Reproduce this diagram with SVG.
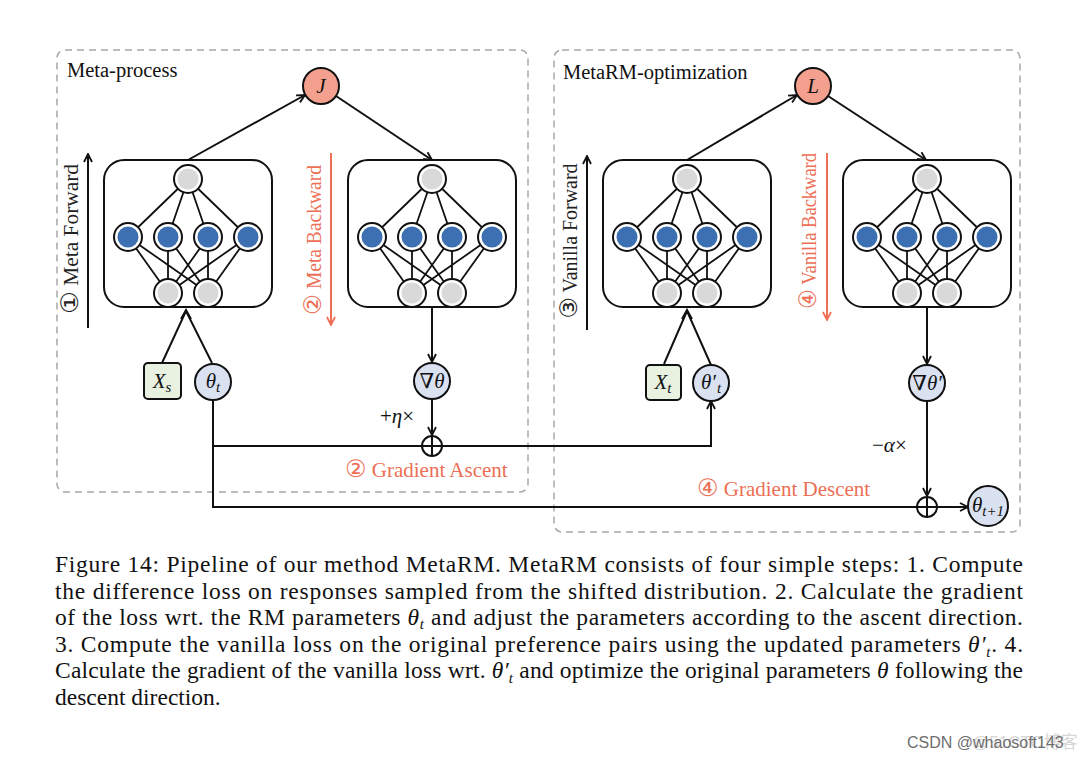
<svg xmlns="http://www.w3.org/2000/svg" xmlns:xlink="http://www.w3.org/1999/xlink" width="1080" height="759" viewBox="0 0 1080 759">
<style>
.dash{fill:none;stroke:#a8a8a8;stroke-width:1.5;stroke-dasharray:7 5}
.ln{fill:none;stroke:#111;stroke-width:2}
.nl{fill:none;stroke:#111;stroke-width:1.8}
.rl{fill:none;stroke:#ec6f56;stroke-width:2}
.ser{font-family:"Liberation Serif","Times New Roman",serif;fill:#111}
.lbl{font-family:"Liberation Serif","Times New Roman","DejaVu Sans",serif;font-size:20px}
.glbl{font-family:"Liberation Serif","Times New Roman","DejaVu Sans",serif;font-size:21px}
.dig{font-size:24px}
.red{fill:#ec6f56}
.cap{font-family:"Liberation Serif","Times New Roman",serif;font-size:23.5px;fill:#111}
.mi{font-style:italic}
.sub{font-size:15px;font-style:italic}
.math{font-family:"Liberation Serif","DejaVu Serif",serif;font-size:21px;fill:#111}
.msub{font-size:15px;font-style:italic}
.par{fill:#dae1f0;stroke:#111;stroke-width:2}
.inp{fill:#e9f2e1;stroke:#111;stroke-width:2}
.loss{fill:#f4a08e;stroke:#111;stroke-width:2}
</style>
<defs>
<marker id="ah" viewBox="0 0 10 10" refX="9" refY="5" markerWidth="10" markerHeight="10" markerUnits="userSpaceOnUse" orient="auto">
<path d="M1,1 L9,5 L1,9" fill="none" stroke="#111" stroke-width="1.8"/>
</marker>
<marker id="ahr" viewBox="0 0 10 10" refX="9" refY="5" markerWidth="10" markerHeight="10" markerUnits="userSpaceOnUse" orient="auto">
<path d="M1,1 L9,5 L1,9" fill="none" stroke="#ec6f56" stroke-width="1.8"/>
</marker>
<g id="gn"><circle r="14" fill="#fff" stroke="#111" stroke-width="2"/><circle r="10.5" fill="#d9d9d9"/></g>
<g id="bn"><circle r="14" fill="#fff" stroke="#111" stroke-width="2"/><circle r="10.5" fill="#3d70b2"/></g>
<g id="net">
<rect x="-84" y="0" width="168" height="147" rx="20" fill="#fff" stroke="#111" stroke-width="2"/>
<path class="nl" d="M0,19 L-60,77 M0,19 L-20,77 M0,19 L20,77 M0,19 L60,77 M-60,77 L-20,133 M-60,77 L20,133 M-20,77 L-20,133 M-20,77 L20,133 M20,77 L-20,133 M20,77 L20,133 M60,77 L-20,133 M60,77 L20,133"/>
<use xlink:href="#gn" x="0" y="19"/>
<use xlink:href="#bn" x="-60" y="77"/>
<use xlink:href="#bn" x="-20" y="77"/>
<use xlink:href="#bn" x="20" y="77"/>
<use xlink:href="#bn" x="60" y="77"/>
<use xlink:href="#gn" x="-20" y="133"/>
<use xlink:href="#gn" x="20" y="133"/>
</g>
</defs>
<rect width="1080" height="759" fill="#fff"/>

<g id="regions">
<rect class="dash" x="57" y="50" width="471" height="442" rx="8"/>
<rect class="dash" x="554" y="50" width="466" height="482" rx="8"/>
<text class="ser" x="67" y="77" font-size="20.5">Meta-process</text>
<text class="ser" x="563" y="79" font-size="20.5">MetaRM-optimization</text>
</g>

<g id="connectors">
<path class="ln" d="M188,160 L305,95" marker-end="url(#ah)"/>
<path class="ln" d="M336,96 L432,160" marker-end="url(#ah)"/>
<path class="ln" d="M687,160 L797,95" marker-end="url(#ah)"/>
<path class="ln" d="M828,96 L926,160" marker-end="url(#ah)"/>
<path class="ln" d="M162,363 L186,311 L212,363"/>
<path class="ln" d="M181,319 L186,310 L191,319"/>
<path class="ln" d="M664,364 L687,311 L711,365"/>
<path class="ln" d="M682,319 L687,310 L692,319"/>
<path class="ln" d="M432,308 V362" marker-end="url(#ah)"/>
<path class="ln" d="M432,399 V435" marker-end="url(#ah)"/>
<path class="ln" d="M213,400 V507 H917"/>
<path class="ln" d="M213,446 H711 V401" marker-end="url(#ah)"/>
<path class="ln" d="M927,308 V364" marker-end="url(#ah)"/>
<path class="ln" d="M927,401 V496" marker-end="url(#ah)"/>
<path class="ln" d="M937,507 H968" marker-end="url(#ah)"/>
<path class="ln" d="M88,328 V154" marker-end="url(#ah)"/>
<path class="ln" d="M587,330 V156" marker-end="url(#ah)"/>
<path class="rl" d="M331,153 V325" marker-end="url(#ahr)"/>
<path class="rl" d="M827,153 V320" marker-end="url(#ahr)"/>
</g>

<g id="plus1"><circle cx="432" cy="446" r="10" fill="#fff" stroke="#111" stroke-width="2"/><path class="ln" d="M422,446 H442 M432,436 V456"/></g>
<g id="plus2"><circle cx="927" cy="507" r="10" fill="#fff" stroke="#111" stroke-width="2"/><path class="ln" d="M917,507 H937 M927,497 V517"/></g>

<g id="net1"><use xlink:href="#net" transform="translate(188,160)"/></g>
<g id="net2"><use xlink:href="#net" transform="translate(432,160)"/></g>
<g id="net3"><use xlink:href="#net" transform="translate(687,160)"/></g>
<g id="net4"><use xlink:href="#net" transform="translate(927,160)"/></g>

<g id="lossJ"><circle class="loss" cx="321" cy="86" r="18"/><text class="math mi" x="321" y="93" text-anchor="middle">J</text></g>
<g id="lossL"><circle class="loss" cx="813" cy="86" r="18"/><text class="math mi" x="813" y="93" text-anchor="middle">L</text></g>

<g id="Xs"><rect class="inp" x="144" y="363" width="37" height="36" rx="4"/><text class="math" x="162" y="388" text-anchor="middle"><tspan class="mi">X</tspan><tspan class="msub" dy="4">s</tspan></text></g>
<g id="thetat"><circle class="par" cx="213" cy="382" r="18"/><text class="math" x="213" y="388" text-anchor="middle"><tspan class="mi">θ</tspan><tspan class="msub" dy="4">t</tspan></text></g>
<g id="gradtheta"><circle class="par" cx="432" cy="381" r="18"/><text class="math" x="432" y="388" text-anchor="middle">∇<tspan class="mi">θ</tspan></text></g>
<g id="Xt"><rect class="inp" x="646" y="365" width="35" height="35" rx="4"/><text class="math" x="663" y="389" text-anchor="middle"><tspan class="mi">X</tspan><tspan class="msub" dy="4">t</tspan></text></g>
<g id="thetapt"><circle class="par" cx="711" cy="383" r="18"/><text class="math" x="711" y="389" text-anchor="middle"><tspan class="mi">θ′</tspan><tspan class="msub" dy="4" dx="1">t</tspan></text></g>
<g id="gradthetap"><circle class="par" cx="927" cy="383" r="18"/><text class="math" x="927" y="390" text-anchor="middle">∇<tspan class="mi">θ′</tspan></text></g>
<g id="thetanext"><circle class="par" cx="988" cy="506" r="20"/><text class="math" x="988" y="512" text-anchor="middle"><tspan class="mi">θ</tspan><tspan class="msub" dy="4">t+1</tspan></text></g>

<g id="labels">
<text class="math" x="380" y="423">+<tspan class="mi">η</tspan>×</text>
<text class="math" x="872" y="452">−<tspan class="mi">α</tspan>×</text>
<text class="glbl red" x="345" y="477"><tspan class="dig">②</tspan> Gradient Ascent</text>
<text class="glbl red" x="697" y="496"><tspan class="dig">④</tspan> Gradient Descent</text>
<text class="lbl" fill="#222" transform="translate(78,239) rotate(-90)" text-anchor="middle" textLength="150" lengthAdjust="spacingAndGlyphs"><tspan class="dig">①</tspan> Meta Forward</text>
<text class="lbl red" transform="translate(321,240) rotate(-90)" text-anchor="middle" textLength="150" lengthAdjust="spacingAndGlyphs"><tspan class="dig">②</tspan> Meta Backward</text>
<text class="lbl" fill="#222" transform="translate(577,241) rotate(-90)" text-anchor="middle" textLength="155" lengthAdjust="spacingAndGlyphs"><tspan class="dig">③</tspan> Vanilla Forward</text>
<text class="lbl red" transform="translate(816,231) rotate(-90)" text-anchor="middle" textLength="156" lengthAdjust="spacingAndGlyphs"><tspan class="dig">④</tspan> Vanilla Backward</text>
</g>

<g id="caption">
<text class="cap" x="55" y="572" textLength="968" lengthAdjust="spacing">Figure 14: Pipeline of our method MetaRM. MetaRM consists of four simple steps: 1. Compute</text>
<text class="cap" x="55" y="598.6" textLength="968" lengthAdjust="spacing">the difference loss on responses sampled from the shifted distribution. 2. Calculate the gradient</text>
<text class="cap" x="55" y="625.2" textLength="968" lengthAdjust="spacing">of the loss wrt. the RM parameters <tspan class="mi">θ</tspan><tspan class="sub" dy="4">t</tspan><tspan dy="-4"> and adjust the parameters according to the ascent direction.</tspan></text>
<text class="cap" x="55" y="651.8" textLength="968" lengthAdjust="spacing">3. Compute the vanilla loss on the original preference pairs using the updated parameters <tspan class="mi">θ′</tspan><tspan class="sub" dy="5">t</tspan><tspan dy="-5">. 4.</tspan></text>
<text class="cap" x="55" y="678.4" textLength="968" lengthAdjust="spacing">Calculate the gradient of the vanilla loss wrt. <tspan class="mi">θ′</tspan><tspan class="sub" dy="5">t</tspan><tspan dy="-5"> and optimize the original parameters </tspan><tspan class="mi">θ</tspan> following the</text>
<text class="cap" x="55" y="705">descent direction.</text>
</g>

<g id="watermark">
<text x="972" y="748" font-family="'Liberation Sans','Noto Sans CJK SC',sans-serif" font-size="17" fill="#d6d6d6">@51CTO博客</text>
<text x="907" y="748" font-family="'Liberation Sans',Arial,sans-serif" font-size="16" fill="#6e6e6e">CSDN @whaosoft143</text>
</g>
</svg>
